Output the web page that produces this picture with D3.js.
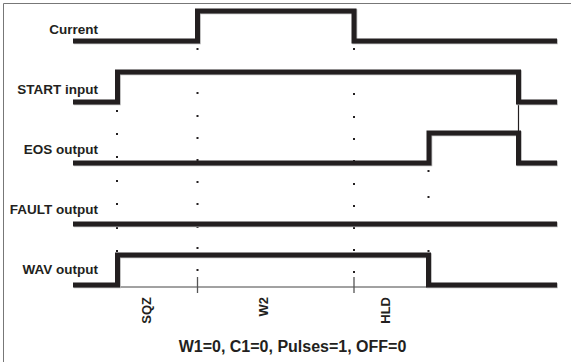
<!DOCTYPE html>
<html><head><meta charset="utf-8">
<script src="https://cdn.jsdelivr.net/npm/d3@7"></script>
<style>
html,body{margin:0;padding:0;background:#fff;}
svg{display:block;font-family:Arial,"Liberation Sans",sans-serif;}
</style></head>
<body><svg id="c" width="571" height="362"></svg>
<script>
// ---- data ----
const rows = ["Current", "START input", "EOS output", "FAULT output", "WAV output"];
// step signals: [time, level]
const currentSig = [[0,0],[124.5,1],[281,0],[484,0]];
const startSig   = [[0,0],[44.5,1],[445.5,0],[484,0]];
const eosSig     = [[0,0],[356,1],[445.5,0],[484,0]];
const faultSig   = [[0,0],[484,0]];
const wavSig     = [[0,0],[44.5,1],[355.5,0],[484,0]];
const signals = [currentSig, startSig, eosSig, faultSig, wavSig];
// phase boundaries and labels
const phaseEdges = [44.5, 124.5, 281, 355.5];
const phaseTicks = [124.5, 281];
const phaseLabels = ["SQZ", "W2", "HLD"];
const phaseLabelPos = [72.5, 189.5, 311.5];
const subtitle = "W1=0, C1=0, Pulses=1, OFF=0";
// marker dots (time, vertical position in chart units)
const dotCols = [44, 124.5, 281, 355.5];
const dotYs = [
  [111, 134, 157, 181, 204, 228, 251],
  [49, 93, 116, 138, 160, 182, 204, 227, 248, 270],
  [49, 94, 117, 139, 161, 184, 206, 228, 250, 272],
  [171, 197, 251]
];

// ---- scales ----
const x = d3.scaleLinear().domain([0, 484]).range([73, 557]);
const rowY = d3.scalePoint().domain(rows).range([41, 285]);
const labelY = d3.scalePoint().domain(rows).range([34, 274]);
const amp = 30;
const lvl = (row, v) => rowY(row) - v * amp;
const yv = d3.scaleLinear().domain([0, 362]).range([0, 362]);

const svg = d3.select("#c");
const ink = "#231f20";

// frame
svg.append("path").attr("d", "M3.5,362 V3.5 H571")
  .attr("fill", "none").attr("stroke", "#777").attr("stroke-width", 1);

// phase baseline under WAV pulse
svg.append("line")
  .attr("x1", x(phaseEdges[0])).attr("x2", x(phaseEdges[3]))
  .attr("y1", rowY("WAV output") + 2).attr("y2", rowY("WAV output") + 2)
  .attr("stroke", "#444").attr("stroke-width", 1);
svg.selectAll(".tick").data(phaseTicks).join("line")
  .attr("x1", d => x(d)).attr("x2", d => x(d))
  .attr("y1", rowY("WAV output") - 8).attr("y2", rowY("WAV output") + 8)
  .attr("stroke", "#555").attr("stroke-width", 1.3);

// dots
dotCols.forEach((t, i) => {
  svg.selectAll(".d" + i).data(dotYs[i]).join("rect")
    .attr("x", x(t) - 1).attr("y", d => yv(d) - 1)
    .attr("width", 2).attr("height", 2).attr("fill", ink);
});

// thin connector between START low and EOS high at the final edge
svg.append("line")
  .attr("x1", x(445.5)).attr("x2", x(445.5))
  .attr("y1", lvl("START input", 0)).attr("y2", lvl("EOS output", 1))
  .attr("stroke", ink).attr("stroke-width", 1.2);

// signals
const line = d3.line().curve(d3.curveStepAfter);
signals.forEach((sig, i) => {
  const pts = sig.map(d => [x(d[0]), lvl(rows[i], d[1])]);
  svg.append("path").attr("d", line(pts))
    .attr("transform", "translate(0.8,0.8)")
    .attr("fill", "none").attr("stroke", "#b5b5b5").attr("stroke-width", 5)
    .attr("stroke-linejoin", "miter");
  svg.append("path").attr("d", line(pts))
    .attr("fill", "none").attr("stroke", ink).attr("stroke-width", 5)
    .attr("stroke-linejoin", "miter");
});

// row labels
svg.selectAll(".rl").data(rows).join("text")
  .attr("x", 98).attr("y", d => labelY(d))
  .attr("text-anchor", "end").attr("font-size", 13.5).attr("font-weight", "bold")
  .attr("fill", ink).text(d => d);

// phase labels
svg.selectAll(".pl").data(phaseLabels).join("text")
  .attr("transform", (d, i) => `translate(${x(phaseLabelPos[i]) + 5.5},297) rotate(-90)`)
  .attr("text-anchor", "end").attr("font-size", 13).attr("font-weight", "bold")
  .attr("fill", ink).text(d => d);

// subtitle
svg.append("text").attr("x", 292.5).attr("y", 352)
  .attr("text-anchor", "middle").attr("font-size", 16).attr("font-weight", "bold")
  .attr("fill", ink).text(subtitle);
</script></body></html>
